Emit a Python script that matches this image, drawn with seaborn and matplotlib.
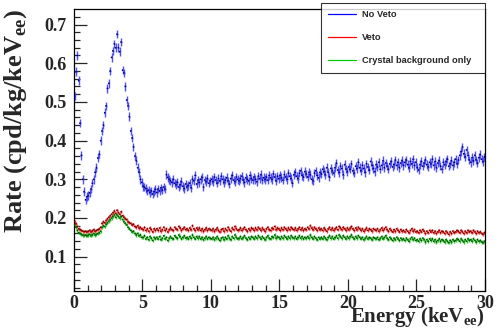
import numpy as np
import pandas as pd
import matplotlib
matplotlib.use("Agg")
import matplotlib.pyplot as plt
import seaborn as sns
from matplotlib.lines import Line2D

# Data: rate per 0.1 keV bin, in units of 1e-3 cpd/kg/keV_ee
bin_width = 0.1
n_bins = 300

no_veto = [
    515, 578, 620, 555, 445, 362, 300, 268, 247, 255,
    258, 265, 275, 290, 300, 318, 330, 355, 365, 400,
    425, 440, 472, 490, 535, 548, 580, 615, 632, 650,
    640, 675, 640, 630, 655, 582, 575, 540, 505, 490,
    462, 425, 407, 384, 360, 348, 330, 318, 300, 292,
    282, 280, 276, 270, 272, 266, 270, 262, 268, 274,
    266, 275, 270, 278, 272, 280, 275, 312, 305, 300,
    296, 292, 300, 290, 286, 292, 280, 286, 294, 282,
    276, 288, 280, 284, 290, 278, 300, 296, 310, 288,
    298, 292, 300, 305, 280, 298, 294, 302, 290, 296,
    300, 294, 306, 298, 290, 302, 296, 308, 300, 292,
    298, 304, 296, 288, 302, 310, 298, 294, 306, 300,
    296, 302, 308, 298, 292, 304, 300, 296, 310, 302,
    298, 306, 300, 294, 308, 302, 312, 298, 304, 300,
    306, 298, 310, 304, 300, 314, 306, 296, 308, 302,
    310, 304, 298, 312, 306, 300, 316, 308, 302, 290,
    312, 318, 308, 302, 316, 322, 310, 306, 320, 314,
    306, 318, 312, 300, 296, 316, 322, 310, 304, 318,
    314, 326, 320, 312, 330, 318, 306, 328, 322, 316,
    330, 342, 324, 318, 334, 328, 312, 338, 326, 320,
    332, 326, 340, 322, 316, 334, 328, 344, 330, 322,
    336, 328, 318, 340, 332, 324, 346, 336, 328, 320,
    338, 332, 344, 326, 336, 348, 330, 342, 334, 326,
    340, 346, 332, 338, 350, 336, 344, 330, 342, 348,
    336, 344, 350, 338, 330, 346, 340, 352, 336, 344,
    330, 324, 338, 346, 334, 342, 350, 338, 332, 344,
    340, 352, 336, 346, 330, 342, 348, 334, 326, 344,
    338, 346, 352, 334, 340, 348, 336, 344, 352, 340,
    350, 362, 372, 384, 366, 358, 376, 362, 350, 344,
    356, 348, 362, 350, 342, 356, 364, 352, 346, 358,
]

veto = [
    190, 185, 178, 172, 170, 168, 166, 165, 166, 164,
    166, 168, 164, 167, 170, 166, 168, 170, 172, 176,
    186, 190, 188, 194, 198, 202, 206, 210, 214, 218,
    212, 220, 214, 210, 216, 206, 202, 198, 196, 190,
    188, 186, 182, 184, 178, 176, 180, 174, 176, 172,
    170, 176, 168, 172, 166, 174, 170, 164, 172, 168,
    172, 168, 174, 166, 170, 176, 168, 172, 164, 170,
    174, 170, 168, 176, 172, 170, 178, 174, 168, 172,
    176, 170, 172, 168, 174, 170, 180, 172, 168, 174,
    170, 174, 168, 172, 166, 170, 174, 168, 172, 170,
    168, 172, 166, 170, 174, 168, 164, 170, 172, 166,
    172, 168, 176, 170, 166, 174, 170, 178, 172, 168,
    170, 174, 168, 172, 176, 170, 166, 172, 168, 174,
    172, 168, 174, 170, 176, 172, 168, 174, 170, 166,
    172, 176, 170, 168, 174, 172, 178, 170, 174, 172,
    168, 174, 170, 176, 172, 168, 174, 170, 176, 172,
    170, 174, 168, 172, 176, 170, 174, 168, 172, 170,
    176, 172, 180, 174, 170, 176, 172, 168, 174, 170,
    172, 168, 174, 170, 166, 172, 176, 170, 174, 168,
    172, 176, 170, 178, 174, 170, 176, 172, 168, 174,
    170, 174, 178, 172, 168, 174, 170, 176, 172, 168,
    172, 166, 170, 174, 168, 172, 170, 166, 172, 170,
    168, 172, 166, 170, 174, 168, 172, 176, 170, 166,
    172, 168, 164, 170, 166, 172, 168, 164, 170, 166,
    168, 164, 170, 166, 162, 168, 172, 166, 170, 164,
    166, 162, 168, 164, 170, 166, 160, 166, 162, 168,
    164, 168, 162, 166, 160, 164, 168, 162, 166, 164,
    160, 166, 162, 158, 164, 160, 166, 162, 164, 168,
    166, 162, 168, 164, 160, 166, 162, 168, 164, 166,
    162, 168, 164, 160, 166, 162, 164, 160, 158, 162,
]

crystal = [
    182, 176, 168, 162, 160, 158, 156, 155, 156, 154,
    156, 158, 154, 157, 160, 156, 158, 160, 162, 166,
    176, 180, 178, 184, 188, 192, 196, 200, 204, 208,
    202, 208, 204, 200, 204, 196, 190, 186, 182, 176,
    172, 168, 164, 166, 160, 156, 160, 154, 156, 150,
    150, 154, 146, 150, 144, 152, 148, 142, 150, 146,
    150, 146, 152, 144, 148, 154, 146, 150, 142, 148,
    152, 148, 146, 154, 150, 148, 156, 152, 146, 150,
    154, 148, 150, 146, 152, 148, 156, 150, 146, 152,
    148, 152, 146, 150, 144, 148, 152, 146, 150, 148,
    146, 150, 144, 148, 152, 146, 142, 148, 150, 144,
    150, 146, 154, 148, 144, 152, 148, 156, 150, 146,
    148, 152, 146, 150, 154, 148, 144, 150, 146, 152,
    150, 146, 152, 148, 154, 150, 146, 152, 148, 144,
    150, 154, 148, 146, 152, 150, 156, 148, 152, 150,
    146, 152, 148, 154, 150, 146, 152, 148, 154, 150,
    148, 152, 146, 150, 154, 148, 152, 146, 150, 148,
    152, 148, 156, 150, 146, 152, 148, 144, 150, 146,
    150, 146, 152, 148, 144, 150, 154, 148, 152, 146,
    150, 154, 148, 156, 152, 148, 154, 150, 146, 152,
    148, 152, 156, 150, 146, 152, 148, 154, 150, 146,
    150, 144, 148, 152, 146, 150, 148, 144, 150, 148,
    146, 150, 144, 148, 152, 146, 150, 154, 148, 144,
    150, 146, 142, 148, 144, 150, 146, 142, 148, 144,
    146, 142, 148, 144, 140, 146, 150, 144, 148, 142,
    144, 140, 146, 142, 148, 144, 138, 144, 140, 146,
    142, 146, 140, 144, 138, 142, 146, 140, 144, 142,
    138, 144, 140, 136, 142, 138, 144, 140, 142, 146,
    144, 140, 146, 142, 138, 144, 140, 146, 142, 144,
    140, 146, 142, 138, 144, 140, 142, 138, 136, 140,
]

# statistical error per bin (same units)
no_veto_err = 11
veto_err = 4
crystal_err = 4

labels = ["No Veto", "Veto", "Crystal background only"]
line_colors = ["#0000ff", "#ff0000", "#00cc00"]
err_colors = ["#5050ff", "#ff4040", "#2ec42e"]

energy = (np.arange(n_bins) + 0.5) * bin_width
df = pd.DataFrame({
    "Energy": np.tile(energy, 3),
    "Rate": np.concatenate([no_veto, veto, crystal]) / 1000.0,
    "Err": np.repeat([no_veto_err, veto_err, crystal_err], n_bins) / 1000.0,
    "Sample": np.repeat(labels, n_bins),
})

sns.set_theme(style="ticks")
plt.rcParams["font.family"] = ["Liberation Serif", "DejaVu Serif"]
plt.rcParams["mathtext.fontset"] = "custom"
plt.rcParams["mathtext.rm"] = "Liberation Serif:bold"
plt.rcParams["mathtext.bf"] = "Liberation Serif:bold"

fig = plt.figure(figsize=(4.99, 3.35), dpi=100)
ax = fig.add_axes([0.148, 0.131, 0.824, 0.842])

for lab, ec in zip(labels, err_colors):
    d = df[df["Sample"] == lab]
    ax.errorbar(d["Energy"], d["Rate"], yerr=d["Err"], xerr=bin_width / 2,
                fmt="none", ecolor=ec, elinewidth=1.0, capsize=0)
sns.scatterplot(data=df, x="Energy", y="Rate", hue="Sample",
                palette=["#00006e", "#6e0000", "#005000"], s=1.5,
                linewidth=0, legend=False, ax=ax, zorder=3)

ax.set_xlim(0, 30)
ax.set_ylim(0.011, 0.74)
ax.set_xticks(np.arange(0, 31, 5))
ax.set_xticks(np.arange(0, 31, 1), minor=True)
ax.set_yticks(np.arange(0.1, 0.71, 0.1))
ax.set_yticks(np.arange(0.02, 0.74, 0.02), minor=True)
ax.xaxis.set_major_formatter(plt.FuncFormatter(lambda v, p: f"{v:g}"))
ax.yaxis.set_major_formatter(plt.FuncFormatter(lambda v, p: f"{v:.1f}"))
ax.tick_params(axis="both", which="major", direction="in", length=9,
               width=0.9, labelsize=13, top=False, right=False)
ax.tick_params(axis="both", which="minor", direction="in", length=4.5,
               width=0.9, top=False, right=False)
ax.tick_params(axis="x", pad=3)
ax.tick_params(axis="y", pad=5.5)
for lbl in ax.get_xticklabels() + ax.get_yticklabels():
    lbl.set_fontweight("bold")
for sp in ax.spines.values():
    sp.set_linewidth(0.9)
    sp.set_color("black")

ax.set_xlabel(r"Energy (keV$_{\rm ee}$)", fontsize=15, fontweight="bold",
              loc="right")
ax.xaxis.set_label_coords(1.0, -0.05)
ax.set_ylabel(r"Rate (cpd/kg/keV$_{\rm ee}$)", fontsize=19, fontweight="bold",
              loc="top")
ax.yaxis.set_label_coords(-0.11, 1.0)

handles = [Line2D([0], [0], color=c, lw=0.9) for c in line_colors]
leg = fig.legend(handles, labels, loc="upper left",
                 bbox_to_anchor=(0.643, 0.773, 0.329, 0.218), mode="expand",
                 borderaxespad=0, frameon=True, fancybox=False,
                 handlelength=3.0, handletextpad=0.6, labelspacing=1.5,
                 borderpad=0.8, prop={"family": "Liberation Sans",
                                      "weight": "bold", "size": 6.7})
leg.get_frame().set_edgecolor("black")
leg.get_frame().set_linewidth(0.8)
leg.set_zorder(10)

fig.savefig("out.png", dpi=100)
